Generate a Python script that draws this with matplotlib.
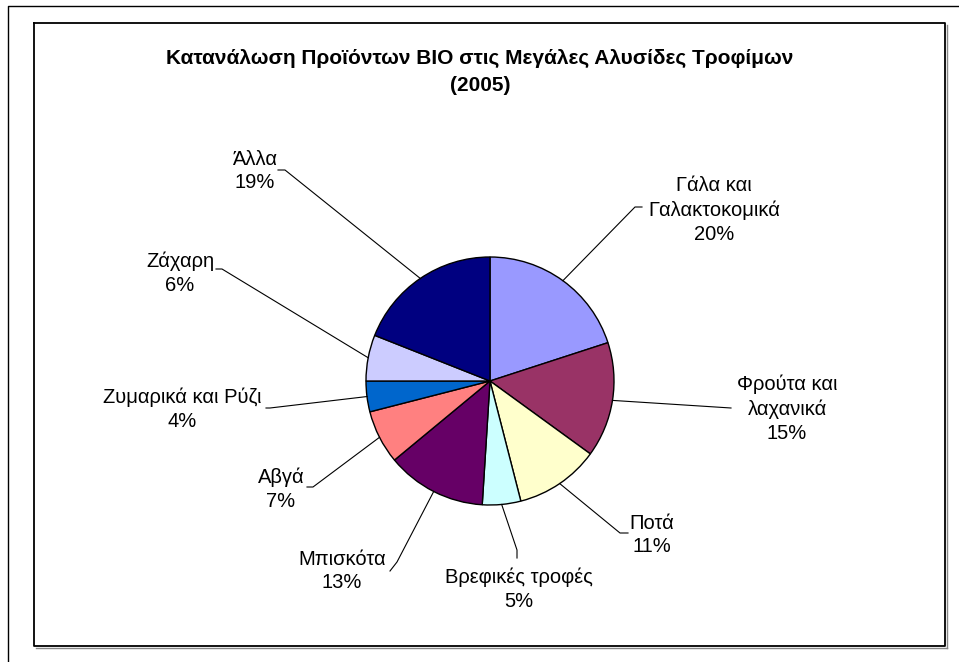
import numpy as np
import matplotlib
matplotlib.use("Agg")
import matplotlib.pyplot as plt

plt.rcParams['font.family'] = ['Liberation Sans', 'DejaVu Sans']

# ---- data ----
categories = ["Γάλα και\nΓαλακτοκομικά", "Φρούτα και\nλαχανικά", "Ποτά", "Βρεφικές τροφές",
              "Μπισκότα", "Αβγά", "Ζυμαρικά και Ρύζι", "Ζάχαρη", "Άλλα"]
values = [20, 15, 11, 5, 13, 7, 4, 6, 19]
title = "Κατανάλωση Προϊόντων BIO στις Μεγάλες Αλυσίδες Τροφίμων\n(2005)"

# ---- style / layout ----
colors = ["#9999FF", "#993366", "#FFFFCC", "#CCFFFF", "#660066",
          "#FF8080", "#0066CC", "#CCCCFF", "#000080"]
W, H = 959, 662
# label text centres (px, from top-left)
label_pos = [(714, 210), (787, 409), (652, 535), (519, 589), (342, 571),
             (281, 489), (182, 409), (180, 273), (255, 171)]
# leader line elbow and end points (px)
elbow_pos = [(635, 207), (731, 408), (620, 533), (517, 550), (397, 562),
             (313, 487), (270, 408), (222, 269), (285, 170)]
end_pos = [(642, 207), (731, 408), (628, 533), (517, 558), (390, 571),
           (307, 487), (266, 408), (216, 269), (278, 170)]
center_px = (490, 381)
radius_px = 124

fig = plt.figure(figsize=(W / 100, H / 100), dpi=100)
ax = fig.add_axes([0, 0, 1, 1])

# outer frame (partial, runs off the right and bottom)
ax.plot([8, 8, W + 5], [-5, H - 6, H - 6], color='black', lw=1.0, solid_capstyle='butt')
# inner frame with shadow
x0, y0, x1, y1 = 34, 23, 945, 646
ax.plot([x1 + 1.5, x1 + 1.5], [H - y0 - 2, H - y1 - 1.5], color='#888888', lw=1.0)
ax.plot([x0 + 2, x1 + 1.5], [H - y1 - 1.5, H - y1 - 1.5], color='#888888', lw=1.0)
ax.plot([x0, x1, x1, x0, x0], [H - y0, H - y0, H - y1, H - y1, H - y0],
        color='black', lw=1.3)

wedges, _ = ax.pie(values, colors=colors, startangle=90, counterclock=False,
                   center=(center_px[0], H - center_px[1]), radius=radius_px,
                   wedgeprops=dict(edgecolor='black', linewidth=1.0))
ax.set_xlim(0, W)
ax.set_ylim(0, H)
ax.set_aspect('equal')
ax.axis('off')

total = float(sum(values))
cum = 0.0
for i, v in enumerate(values):
    mid = (cum + v / 2.0) / total * 2 * np.pi
    cum += v
    sx = center_px[0] + radius_px * np.sin(mid)
    sy = center_px[1] - radius_px * np.cos(mid)
    ex, ey = elbow_pos[i]
    fx, fy = end_pos[i]
    ax.plot([sx, ex, fx], [H - sy, H - ey, H - fy], color='black', lw=0.8)
    pct = f"{v / total * 100:.0f}%"
    lx, ly = label_pos[i]
    ax.text(lx, H - ly, categories[i] + "\n" + pct, ha='center', va='center',
            multialignment='center', fontsize=14.5, linespacing=1.33, color='black')

ax.text(480, H - 72, title, ha='center', va='center', fontsize=15,
        fontweight='bold', linespacing=1.57)

fig.savefig("out.png", dpi=100, facecolor='white')
